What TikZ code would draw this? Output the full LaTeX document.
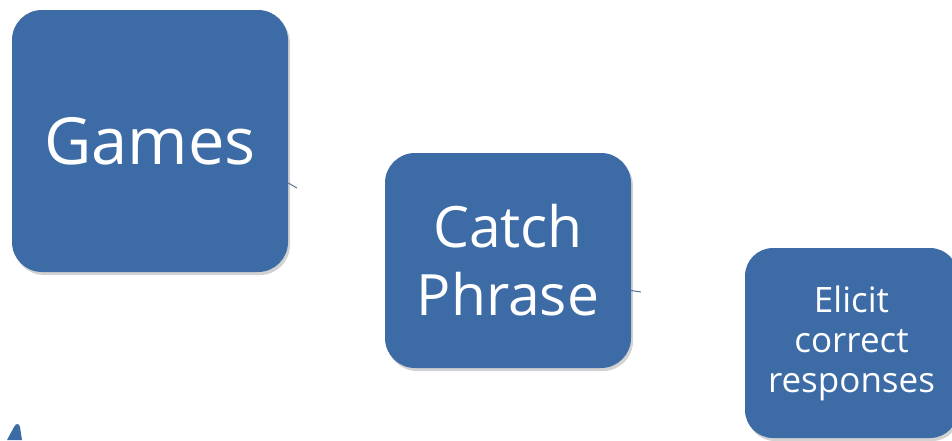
\documentclass[tikz,border=0pt]{standalone}
\usepackage{fontspec}
\setmainfont{Open Sans}
\usetikzlibrary{shadows}
\definecolor{BoxBlue}{HTML}{3C6BA6}
\definecolor{StubLine}{HTML}{5A6F93}
\definecolor{ShadowGray}{HTML}{7F7F7F}

\tikzset{
  stepbox/.style={rectangle, rounded corners=30pt, fill=BoxBlue, text=white,
    inner sep=0pt, align=center,
    drop shadow={shadow xshift=2pt, shadow yshift=-3pt, opacity=0.35, fill=ShadowGray}},
  stub/.style={draw=StubLine, line width=1pt}
}

\begin{document}
\begin{tikzpicture}[x=1pt, y=-1pt]
		\useasboundingbox (0,0) rectangle (952,440);
		\clip (0,0) rectangle (952,440);

		% the three steps
		\node[stepbox, minimum width=276pt, minimum height=262pt,
			font=\fontsize{65}{78}\selectfont] (games) at (150,141) {Games};
		\node[stepbox, minimum width=246pt, minimum height=215pt,
			font=\fontsize{57}{68}\selectfont] (catch) at (508,260.5) {Catch\\Phrase};
		\node[stepbox, rounded corners=28pt, minimum width=213pt, minimum height=190pt,
			font=\fontsize{35}{40}\selectfont] (elicit) at (851.5,343) {Elicit\\correct\\responses};

		% connector ends that show beside the boxes
		\coordinate (g2c) at (297,188);
		\coordinate (c2e) at (641,292);
		\draw[stub] ([yshift=-42pt]games.east) -- (g2c);
		\draw[stub] ([yshift=-30pt]catch.east) -- (c2e);

		% tip of the next shape, cut off at the bottom
		\fill[BoxBlue] (7,440) -- (14,427) .. controls (16,423) and (19,423) .. (20,427) -- (22,440) -- cycle;
	\end{tikzpicture}
\end{document}
